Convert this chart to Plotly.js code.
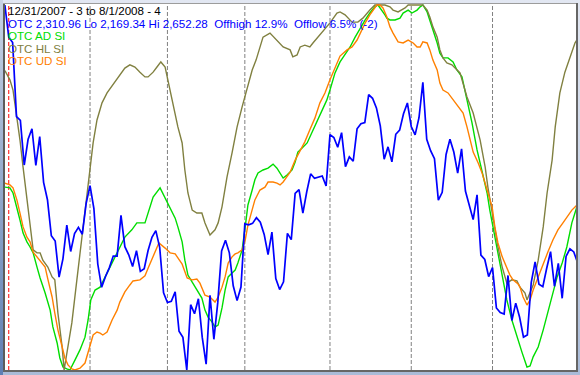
<!DOCTYPE html>
<html>
<head>
<meta charset="utf-8">
<script src="https://cdn.plot.ly/plotly-3.0.1.min.js"></script>
<style>
  html, body { margin:0; padding:0; }
  body { width:580px; height:375px; position:relative; overflow:hidden;
         background: linear-gradient(180deg, #e2e7f2 0%, #c4d0e4 60%, #a9bbd8 100%); }
  #chart { position:absolute; left:5px; top:4px; width:571px; height:366px; background:#fff; }
  .b { position:absolute; }
</style>
</head>
<body>
<div class="b" style="left:0;top:0;width:3px;height:375px;background:linear-gradient(180deg,#c9d3e4,#5f7fb3);"></div>
<div class="b" style="left:3px;top:3px;width:2px;height:369px;background:#5c5c5c;"></div>
<div class="b" style="left:3px;top:3px;width:575px;height:1px;background:#9c9c9c;"></div>
<div class="b" style="left:576px;top:3px;width:2px;height:369px;background:#666;"></div>
<div class="b" style="left:3px;top:370px;width:575px;height:2px;background:#666;"></div>
<div id="chart"></div>
<script>
// Trading-day index 0 = 12/31/2007 ... 148 = 8/1/2008
const otcClose = [2652.28,2609.63,2602.68,2504.65,2499.46,2440.51,2474.55,2488.52,2439.94,2478.30,
2417.59,2394.59,2346.90,2340.02,2292.27,2316.41,2360.92,2326.20,2349.91,2358.06,
2349.00,2389.86,2413.36,2382.85,2309.57,2278.75,2293.03,2304.85,2320.06,2320.04,
2373.93,2332.54,2321.80,2306.20,2327.10,2299.78,2303.35,2327.48,2344.99,2353.78,
2331.57,2271.48,2258.60,2260.28,2272.81,2220.50,2212.49,2169.34,2255.76,2243.87,
2263.61,2212.49,2177.01,2268.26,2209.96,2258.11,2326.75,2341.05,2324.36,2280.83,
2261.18,2279.10,2362.75,2361.40,2363.30,2370.98,2364.83,2348.76,2322.12,2351.70,
2290.24,2275.82,2286.04,2350.11,2341.83,2402.97,2408.04,2376.94,2405.21,2428.92,
2422.93,2424.40,2426.11,2412.80,2480.71,2476.94,2464.10,2483.31,2438.49,2451.24,
2445.52,2488.49,2495.12,2496.70,2533.73,2528.85,2516.09,2492.26,2448.27,2464.58,
2444.67,2481.24,2486.70,2508.32,2522.66,2491.53,2480.48,2503.14,2549.94,2474.56,
2459.46,2448.94,2394.01,2404.35,2454.50,2474.78,2457.73,2429.71,2462.07,2406.09,
2385.74,2368.28,2401.10,2321.37,2315.63,2292.98,2304.97,2251.46,2245.38,2243.32,
2294.44,2234.89,2257.85,2239.08,2212.87,2215.71,2284.85,2312.30,2282.78,2279.53,
2303.96,2325.88,2280.11,2310.53,2264.22,2319.62,2329.72,2325.55,2310.96];
const otcIdx = otcClose.map((_, i) => i);
const otcLo = 2169.34, otcHi = 2652.28;

// OTC AD SI (scaled 0-100)
const adIdx = [0,1.3,2.1,3.1,3.9,4.7,5.7,6.5,7.3,8.3,9.1,10.4,11.7,12.4,13.5,14.2,15,16,16.8,18.1,19.4,20.7,21.5,22.2,23.3,24.6,26.4,27.9,29.7,31,32.8,34.1,36.2,37,38.3,40.1,41.4,42.7,44,44.7,45.8,46.5,47.3,48.4,49.9,50.9,51.7,52.5,53.5,54.3,55.1,56.1,56.9,57.7,58.7,59.5,60.2,61.3,62.1,62.8,63.9,64.6,65.4,66.7,68,69.3,70.3,71.1,71.9,72.9,74.2,75,75.7,76.8,78.1,79.4,80.6,81.9,83.2,84,85.3,86.6,87.9,89.2,90.5,91.8,93.1,94.3,95.6,96.4,97.4,98.2,98.7,99.5,100.8,102.1,102.9,104.2,105.2,106.5,107.3,108,109.1,109.8,110.6,111.7,112.4,113.2,114.5,115.8,116.8,118.1,119.4,120.7,122,123.3,124.6,125.3,126.1,127.2,128,128.7,129.7,131,132.3,133.6,134.9,135.7,136.5,137.8,139.1,140.3,141.6,142.7,144,145.2,146.5,147.8];
const adVal = [50.1,49.9,48.5,44.7,41.1,37.5,35.1,33.7,32.1,28.2,25.2,21.1,16.4,11.8,7.4,3.3,0.8,0.3,0,2.7,5.5,9,13.7,19.2,21.9,22.7,26.6,30.1,33.7,36.4,38.4,40.3,40.3,43,47.4,49.9,47.1,44.4,41.6,39.2,35.1,30.1,26,24.1,21.4,19.7,16.4,14.5,13.2,11.8,12.3,17,21.9,25.5,26.6,27.4,29.3,32.9,39.2,45.2,49.3,52.1,54,54.8,55.3,56.4,55.3,54,52.6,53.4,54.8,57,59.7,60.8,62.2,65.2,67.9,70.7,74,76.7,81.4,84.4,86.3,88.5,91.2,93.7,95.9,97.8,99.5,100,98.6,97.3,96.4,95.9,95.9,96.4,97.8,98.6,97.8,98.6,99.5,100,98.1,95.9,93.2,89.6,86.8,85.5,85.5,84.4,82.2,80.3,74,67.7,60.3,54.8,48.5,43.8,39.2,33.7,28.2,24.7,19.2,13.7,9,4.9,0.8,1.1,3.6,6.3,11,15.6,21.1,25.5,29.3,33.7,40.3,44.7];

// OTC HL SI (scaled 0-100)
const hlIdx = [0,1.3,2.1,3.1,3.9,4.7,5.7,6.5,7.3,8.3,9.1,9.8,11.1,12.2,12.9,13.7,14.8,15.3,16.3,17.3,18.6,19.9,21.2,22,22.8,23.8,25.1,26.4,27.9,29.2,31,32.3,33.6,34.9,36.2,37,38.3,39.3,40.3,41.4,42.1,43.4,44.7,45.8,46.5,47.3,48.4,49.6,50.9,51.7,53,54.3,55.1,56.1,57.4,58.7,60,61.3,62.6,63.9,64.9,66.7,68.5,70.3,71.9,73.7,74.4,75.5,76.3,77.5,78.8,79.6,80.9,82.7,84,85.8,86.6,87.9,89.7,91.2,92.5,94.3,95.6,98.2,99.5,100.3,101.6,103.4,104.2,108,109.1,109.8,110.6,111.7,112.4,113.2,114.2,115.5,116.8,117.6,119.4,121,122.8,124.1,124.8,126.1,127.4,128.5,129.7,131,132.3,133.1,134.4,134.9,135.7,136.5,137.8,139.1,140.1,141.4,142.2,143.4,144.7,146,147.3,147.8];
const hlVal = [82,79.5,76.7,69.3,63,55.6,46.6,38.4,32.9,32.1,32.1,30.1,28.2,25.5,24.7,15.6,6.3,0,6.3,12.9,24.7,36.4,48.5,55.6,62.2,68.5,73.2,75.9,78.1,80.3,82.7,83.6,83,81.6,80.3,80.3,81.6,83,84.4,83,79.5,73.2,66.6,62.2,54.8,48.5,43.8,43,43,40.3,37,38.4,40.3,44.7,52.9,59.5,66.6,72.1,77.5,82.2,84.9,91.2,92.3,90.4,88.5,87.7,85.8,86.3,88.5,89,88.5,89.6,91.2,93.2,95.1,97.8,98.1,97.3,95.3,95.3,96.4,98.6,100,100,99.5,98.6,98.1,99.2,100,100,98.6,96.7,94,91.2,87.7,85.5,84.1,83.6,82.2,81.4,74.8,70.4,63,55.6,50.1,41.9,33.7,28.2,23.8,24.7,24.4,22.7,21.1,19.2,21.1,23.3,30.1,39.2,48.5,57.5,66.6,75.9,81.6,85.8,89.6,90.4];

// OTC UD SI (scaled 0-100)
const udIdx = [0,1.3,2.1,3.1,3.9,4.7,5.7,6.5,7.3,8.3,9.1,10.4,11.1,12.2,12.9,13.7,14.8,15.5,16.3,17.3,18.1,19.4,20.7,21.5,22.2,22.8,23.8,24.6,25.3,26.4,27.7,29,29.7,31,32.3,33.1,34.9,36.2,37,38.3,39.8,41.4,42.7,44,44.7,45.8,47.1,48.4,49.6,50.4,51.7,53,54.3,55.1,56.1,56.9,57.7,58.7,59.5,60.2,61.3,62.1,62.8,63.9,64.6,65.9,67.2,68,69.3,70.3,71.1,71.9,72.9,73.7,75,76.3,77.5,78.8,80.1,81.4,82.7,84,85.3,86.6,88.4,89.7,91,91.8,93.1,94.3,95.6,96.1,96.9,97.7,98.7,99.5,100.3,101.6,102.9,104.2,105.5,106.5,107.3,108,109.1,109.8,110.6,111.7,112.4,113.2,114.5,115.8,117.1,118.4,119.4,120.2,121,122.3,123.3,124.6,125.9,126.6,127.4,128.5,129.7,130.5,131.3,132.6,133.1,133.9,134.9,135.7,136.5,137.8,139.1,140.3,141.6,142.9,144.2,145.2,146.5,147.8];
const udVal = [51.2,50.7,49.9,46.6,43,39.2,36.4,35.1,32.3,31,30.1,28.2,24.9,20,15.6,11,6.3,3.3,1.4,0.3,0,0.5,1.9,4.7,7.4,9.6,10.4,10.1,9.6,10.4,13.7,16.4,18.6,21.4,23.3,24.4,24.7,25.8,27.9,31.2,34.8,33.4,32.1,31.8,30.7,29,25.2,24.7,24.9,23.8,20.5,20,18.6,20,22.7,25.5,29.3,31,31.8,32.1,32.9,35.6,39.7,43.8,46.6,49.3,50.1,51.5,51.5,51.2,50.7,51.5,52.9,54.2,57.5,60.3,62.5,65.8,69,73.2,75.9,79.5,82.7,86,87.7,88.5,90.4,92.3,95.1,97.3,99.5,100,100,99.2,96.7,94,92.3,89.9,89.6,90.4,89.6,88.5,88.5,89.9,89.6,87.7,84.9,82.2,78.6,76.7,75.9,74,72.1,70.4,66.6,63,59.7,56.7,54,49.3,44.7,39.2,34.8,31,28.2,26,24.7,23.6,22.7,20,17.8,19.2,21.9,25.5,29.3,32.3,35.6,38.4,40.3,41.9,43.8,45.2];

const monthStartIdx = [22, 42, 62, 84, 105, 126];
const yearStartIdx = 1;

const legendLines = [
  {text: '12/31/2007 - 3 to 8/1/2008 - 4', color: '#000000'},
  {text: 'OTC 2,310.96 Lo 2,169.34 Hi 2,652.28\u00a0\u00a0Offhigh 12.9%\u00a0\u00a0Offlow 6.5% (-2)', color: '#0000ff'},
  {text: 'OTC AD SI', color: '#00dd00'},
  {text: 'OTC HL SI', color: '#808040'},
  {text: 'OTC UD SI', color: '#ff8000'}
];

const traces = [
  {x: otcIdx, y: otcClose, yaxis: 'y2', type: 'scatter', mode: 'lines', line: {color: '#0000ff', width: 1.7}},
  {x: adIdx, y: adVal, type: 'scatter', mode: 'lines', line: {color: '#00dd00', width: 1.4}},
  {x: hlIdx, y: hlVal, type: 'scatter', mode: 'lines', line: {color: '#808040', width: 1.4}},
  {x: udIdx, y: udVal, type: 'scatter', mode: 'lines', line: {color: '#ff8000', width: 1.4}}
];

const shapes = monthStartIdx.map(m => ({
  type: 'line', xref: 'x', yref: 'paper', x0: m, x1: m, y0: 0, y1: 1, layer: 'below',
  line: {color: '#808080', width: 1, dash: '4px,2px'}
}));
shapes.push({type: 'line', xref: 'x', yref: 'paper', x0: yearStartIdx, x1: yearStartIdx, y0: 0, y1: 1, layer: 'below',
  line: {color: '#ff0000', width: 1, dash: '4px,2px'}});

const lineY = [0.981, 0.948, 0.914, 0.879, 0.845];
const annotations = legendLines.map((l, k) => ({
  xref: 'paper', yref: 'paper', x: 0.002, y: lineY[k], xanchor: 'left', yanchor: 'middle',
  showarrow: false, text: l.text, font: {family: 'Liberation Sans, Arial, sans-serif', size: 11.6, color: l.color}
}));

const hidden = {showgrid: false, zeroline: false, showticklabels: false, ticks: '', showline: false, fixedrange: true};
const layout = {
  width: 571, height: 366,
  margin: {l: 0, r: 0, t: 0, b: 0, pad: 0},
  paper_bgcolor: '#ffffff', plot_bgcolor: '#ffffff',
  showlegend: false,
  xaxis: Object.assign({range: [0.03, 147.57]}, hidden),
  yaxis: Object.assign({range: [0, 100.27]}, hidden),
  yaxis2: Object.assign({range: [otcLo, otcHi + 1.32], overlaying: 'y'}, hidden),
  shapes: shapes,
  annotations: annotations
};

Plotly.newPlot('chart', traces, layout, {displayModeBar: false, staticPlot: true});
</script>
</body>
</html>
